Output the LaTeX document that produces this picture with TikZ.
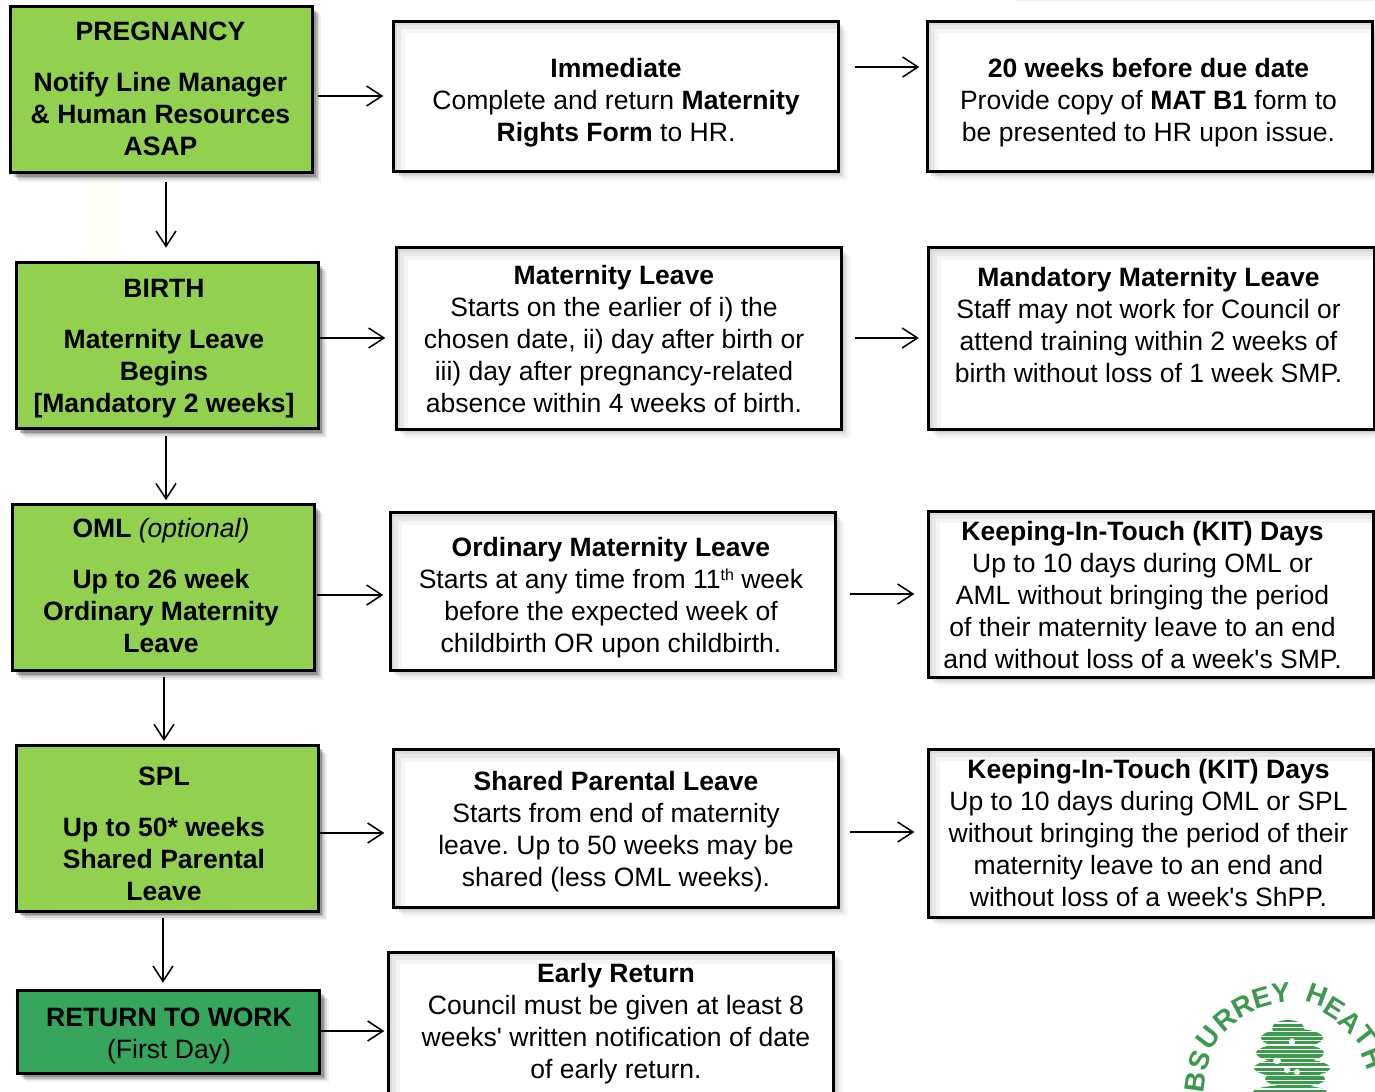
\documentclass[tikz,border=0pt]{standalone}
\usepackage{fontspec}
\setmainfont{Liberation Sans}
\newfontfamily\apfont{Liberation Sans}
\usetikzlibrary{arrows.meta,shadows,calc}
\definecolor{lgreen}{HTML}{92D050}
\definecolor{dgreen}{HTML}{35A65B}
\definecolor{logog}{HTML}{3C9A4C}
\frenchspacing
% #1 right shift in px, #2 down shift in px, #3 the lines
\newcommand{\bt}[3]{\makebox[0pt]{\kern #1\dimexpr1.5pt\relax\smash{\raisebox{#2\dimexpr-0.75pt\relax}{\begin{tabular}[c]{@{}c@{}}#3\end{tabular}}}}}
\newcommand{\logol}[4]{\node[logoletter,rotate=#4] (#1) at (#2) {#3};}
\newcommand{\ap}{{\apfont'}}
\newcommand{\supth}{\smash{\raisebox{6.5pt}{\fontsize{12}{12}\selectfont th}}}
\tikzset{
  x=0.75pt,y=-0.75pt,
  softg/.style={
    general shadow={shadow xshift=6.5pt,shadow yshift=-6.5pt,fill=black,opacity=.06},
    general shadow={shadow xshift=5.2pt,shadow yshift=-5.2pt,fill=black,opacity=.1},
    general shadow={shadow xshift=4pt,shadow yshift=-4pt,fill=black,opacity=.14},
    general shadow={shadow xshift=2.8pt,shadow yshift=-2.8pt,fill=black,opacity=.2}},
  softw/.style={
    general shadow={shadow xshift=7pt,shadow yshift=-7pt,fill=black,opacity=.025},
    general shadow={shadow xshift=5.6pt,shadow yshift=-5.6pt,fill=black,opacity=.03},
    general shadow={shadow xshift=4.2pt,shadow yshift=-4.2pt,fill=black,opacity=.04},
    general shadow={shadow xshift=3pt,shadow yshift=-3pt,fill=black,opacity=.05},
    general shadow={shadow xshift=2pt,shadow yshift=-2pt,fill=black,opacity=.06}},
  boxbase/.style={draw=black,line width=2.25pt,inner sep=0pt,outer sep=0pt,text=black,
    font=\fontsize{19.9}{24}\selectfont,text height=0pt,text depth=0pt},
  gbox/.style={boxbase,fill=lgreen,softg},
  rbox/.style={boxbase,fill=dgreen,softg},
  wbox/.style={boxbase,fill=white,softw,path picture={
     \foreach \w/\o in {24/.04,16/.05,8/.06}{
      \draw[black,opacity=\o,line width=\w*0.75pt]
        ([shift={(0,400)}]path picture bounding box.north west) --
        (path picture bounding box.north west) --
        ([shift={(1200,0)}]path picture bounding box.north west);}}},
  arr/.style={draw=black,line width=1.15pt,-{Straight Barb[length=11.5pt,width=15pt,line width=1.15pt]}},
  logoletter/.style={text=logog,font=\fontsize{21}{21}\selectfont\bfseries,inner sep=0pt},
}
\begin{document}
\begin{tikzpicture}
\useasboundingbox (0,0) rectangle (1375,1092);
\clip (0,0) rectangle (1375,1092);
\fill[white] (0,0) rectangle (1375,1092);
% faint leftovers of the source picture
\fill[black,opacity=.05] (1015,-5) rectangle (1375,1);
\fill[yellow!3!white] (85,180) rectangle (122,258);

\node[gbox,minimum width=226.5pt,minimum height=125pt] (p) at (161.5,89.5)
 {\bt{-1}{9.3}{\bfseries PREGNANCY\\[14pt]\bfseries Notify Line Manager\\\bfseries \& Human Resources\\\bfseries ASAP}};
\node[gbox,minimum width=226.5pt,minimum height=125pt] (b) at (167,345.5)
 {\bt{-3}{9.8}{\bfseries BIRTH\\[14pt]\bfseries Maternity Leave\\\bfseries Begins\\\bfseries [Mandatory 2 weeks]}};
\node[gbox,minimum width=226.5pt,minimum height=125pt] (o) at (163.5,587.5)
 {\bt{-2.5}{8.3}{\bfseries OML \itshape\mdseries(optional)\\[14pt]\bfseries Up to 26 week\\\bfseries Ordinary Maternity\\\bfseries Leave}};
\node[gbox,minimum width=226.5pt,minimum height=124.5pt] (s) at (167,828)
 {\bt{-3}{15.3}{\bfseries SPL\\[14pt]\bfseries Up to 50* weeks\\\bfseries Shared Parental\\\bfseries Leave}};
\node[rbox,minimum width=227pt,minimum height=62pt] (r) at (168.5,1032)
 {\bt{0.5}{11}{\bfseries RETURN TO WORK\\(First Day)}};

\node[wbox,minimum width=334pt,minimum height=113pt] (i) at (616,96.5)
 {\bt{0}{14}{\bfseries Immediate\\Complete and return \textbf{Maternity}\\\textbf{Rights Form} to HR.}};
\node[wbox,minimum width=334pt,minimum height=136pt] (m) at (619,338.5)
 {\bt{-5}{10.5}{\bfseries Maternity Leave\\Starts on the earlier of i) the\\chosen date, ii) day after birth or\\iii) day after pregnancy-related\\absence within 4 weeks of birth.}};
\node[wbox,minimum width=334pt,minimum height=118.5pt] (n) at (613,591.5)
 {\bt{-2}{14}{\bfseries Ordinary Maternity Leave\\Starts at any time from 11\supth{} week\\before the expected week of\\childbirth OR upon childbirth.}};
\node[wbox,minimum width=334pt,minimum height=118.5pt] (l) at (616,828.5)
 {\bt{0}{11}{\bfseries Shared Parental Leave\\Starts from end of maternity\\leave. Up to 50 weeks may be\\shared (less OML weeks).}};
\node[wbox,minimum width=334pt,minimum height=150pt] (e) at (611,1052)
 {\bt{5}{-21}{\bfseries Early Return\\Council must be given at least 8\\weeks\ap{} written notification of date\\of early return.}};

\node[wbox,minimum width=334pt,minimum height=113pt] (t) at (1150,96.5)
 {\bt{-1.5}{14}{\bfseries 20 weeks before due date\\Provide copy of \textbf{MAT B1} form to\\be presented to HR upon issue.}};
\node[wbox,minimum width=334pt,minimum height=136pt] (mm) at (1151.5,338.5)
 {\bt{-3}{-3.8}{\bfseries Mandatory Maternity Leave\\Staff may not work for Council or\\attend training within 2 weeks of\\birth without loss of 1 week SMP.}};
\node[wbox,minimum width=334pt,minimum height=124.5pt] (k) at (1151,594)
 {\bt{-8.5}{11}{\bfseries Keeping-In-Touch (KIT) Days\\Up to 10 days during OML or\\AML without bringing the period\\of their maternity leave to an end\\and without loss of a week\ap{}s SMP.}};
\node[wbox,minimum width=334pt,minimum height=126pt] (j) at (1151,833)
 {\bt{-2.5}{10}{\bfseries Keeping-In-Touch (KIT) Days\\Up to 10 days during OML or SPL\\without bringing the period of their\\maternity leave to an end and\\without loss of a week\ap{}s ShPP.}};

\draw[arr] ([shift={(5,6.5)}]p.east) -- ([shift={(-10,-0.5)}]i.west);
\draw[arr] ([shift={(16,-29.5)}]i.east) -- ([shift={(-8,-29.5)}]t.west);
\draw[arr] ([shift={(4.5,9)}]p.south) -- ([shift={(-1,-14.5)}]b.north);
\draw[arr] ([shift={(0,-7.5)}]b.east) -- ([shift={(-11,-0.5)}]m.west);
\draw[arr] ([shift={(13,-0.5)}]m.east) -- ([shift={(-10,-0.5)}]mm.west);
\draw[arr] ([shift={(-1,7.5)}]b.south) -- ([shift={(2.5,-4)}]o.north);
\draw[arr] ([shift={(2.5,7.5)}]o.east) -- ([shift={(-7,3.5)}]n.west);
\draw[arr] ([shift={(14,2.5)}]n.east) -- ([shift={(-14,0)}]k.west);
\draw[arr] ([shift={(0.5,6)}]o.south) -- ([shift={(-3,-4)}]s.north);
\draw[arr] ([shift={(0,5)}]s.east) -- ([shift={(-9,4.5)}]l.west);
\draw[arr] ([shift={(11,3.5)}]l.east) -- ([shift={(-14,-1)}]j.west);
\draw[arr] ([shift={(-4,6.5)}]s.south) -- ([shift={(-5.5,-8)}]r.north);
\draw[arr] ([shift={(0,-1)}]r.east) -- ([shift={(-4,-21)}]e.west);

% Surrey Heath logo
\logol{l1}{1195,1082}{B}{82}
\logol{l2}{1200,1060}{S}{70}
\logol{l3}{1208,1038}{U}{52}
\logol{l4}{1225,1020}{R}{40}
\logol{l5}{1243,1006}{R}{28}
\logol{l6}{1262,998}{E}{16}
\logol{l7}{1281,993}{Y}{6}
\logol{l8}{1317,995}{H}{-20}
\logol{l9}{1335,1008}{E}{-32}
\logol{l10}{1350,1022}{A}{-42}
\logol{l11}{1365,1036}{T}{-52}
\logol{l12}{1373,1058}{H}{-68}
\begin{scope}
  \clip (1288,1028) ellipse [x radius=16,y radius=8]
        (1292,1038) ellipse [x radius=31,y radius=9.5]
        (1290,1053) ellipse [x radius=34,y radius=9.5]
        (1292,1068) ellipse [x radius=38,y radius=9.5]
        (1295,1079) ellipse [x radius=30,y radius=8]
        (1290,1092) ellipse [x radius=37,y radius=7];
  \fill[logog] (1240,1015) rectangle (1340,1092);
  \foreach \yy in {1023,1027.4,...,1094}{\draw[white,line width=0.8pt] (1240,\yy) -- (1340,\yy);}
  \fill[white] (1292,1042) ellipse [x radius=3,y radius=4];
  \fill[white] (1277,1061) ellipse [x radius=4,y radius=3];
  \fill[white] (1287,1070) ellipse [x radius=3,y radius=3];
  \fill[white] (1297,1072) ellipse [x radius=3,y radius=3];
\end{scope}
\end{tikzpicture}
\end{document}
